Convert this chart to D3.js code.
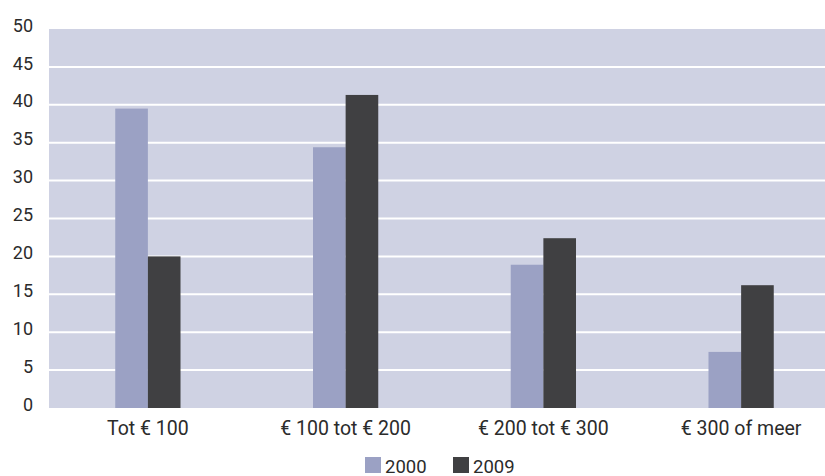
<!DOCTYPE html>
<html>
<head>
<meta charset="utf-8">
<script src="https://cdn.jsdelivr.net/npm/d3@7"></script>
<style>
  html, body { margin: 0; padding: 0; background: #fff; overflow: hidden; }
  svg { display: block; font-family: Roboto, "Liberation Sans", sans-serif; }
</style>
</head>
<body>
<script>
var categories = ["Tot € 100", "€ 100 tot € 200", "€ 200 tot € 300", "€ 300 of meer"];
var seriesNames = ["2000", "2009"];
var values2000 = [39.5, 34.4, 18.9, 7.4];
var values2009 = [20.0, 41.3, 22.4, 16.2];
var yTicks = [0, 5, 10, 15, 20, 25, 30, 35, 40, 45, 50];

var colors = { "2000": "#9ba1c4", "2009": "#404042" };

var width = 825, height = 476;
// plot runs a little past the right edge of the picture, as in the original
var plotLeft = 49, plotTop = 29, plotRight = 840, plotBottom = 408;
var innerWidth = plotRight - plotLeft;
var innerHeight = plotBottom - plotTop;

var svg = d3.select("body").append("svg")
    .attr("width", width)
    .attr("height", height);

var data = categories.map(function(c, i) {
    return { cat: c, "2000": values2000[i], "2009": values2009[i] };
});

var x0 = d3.scaleBand()
    .domain(categories)
    .range([0, innerWidth])
    .paddingInner(0.67)
    .paddingOuter(0.335);

var x1 = d3.scaleBand()
    .domain(seriesNames)
    .range([0, x0.bandwidth()]);

var y = d3.scaleLinear()
    .domain([0, 50])
    .range([innerHeight, 0]);

var g = svg.append("g")
    .attr("transform", "translate(" + plotLeft + "," + plotTop + ")");

// plot background
g.append("rect")
    .attr("width", innerWidth)
    .attr("height", innerHeight)
    .attr("fill", "#cfd2e3");

// gridlines
g.selectAll(".grid")
    .data(yTicks.filter(function(t) { return t > 0 && t < 50; }))
    .enter().append("line")
    .attr("x1", 0)
    .attr("x2", innerWidth)
    .attr("y1", function(d) { return y(d); })
    .attr("y2", function(d) { return y(d); })
    .attr("stroke", "#fff")
    .attr("stroke-width", 2);

// bars
var groups = g.selectAll(".group")
    .data(data)
    .enter().append("g")
    .attr("transform", function(d) { return "translate(" + x0(d.cat) + ",0)"; });

groups.selectAll("rect")
    .data(function(d) { return seriesNames.map(function(s) { return { key: s, value: d[s] }; }); })
    .enter().append("rect")
    .attr("x", function(d) { return x1(d.key); })
    .attr("y", function(d) { return y(d.value); })
    .attr("width", x1.bandwidth())
    .attr("height", function(d) { return innerHeight - y(d.value); })
    .attr("fill", function(d) { return colors[d.key]; });

// y axis
var yAxis = g.append("g")
    .call(d3.axisLeft(y).tickValues(yTicks).tickSize(0).tickPadding(16));
yAxis.select(".domain").remove();
yAxis.selectAll("text")
    .attr("font-family", "Roboto, sans-serif")
    .attr("font-size", 18)
    .attr("fill", "#2b2b2b")
    .attr("dy", "0.12em");

// x axis
var xAxis = g.append("g")
    .attr("transform", "translate(0," + innerHeight + ")")
    .call(d3.axisBottom(x0).tickSize(0).tickPadding(13));
xAxis.select(".domain").remove();
xAxis.selectAll("text")
    .attr("font-family", "Roboto, sans-serif")
    .attr("font-size", 19.5)
    .attr("fill", "#2b2b2b");

// legend
var legend = svg.append("g")
    .attr("transform", "translate(365,457)");

var legendItem = legend.selectAll(".item")
    .data(seriesNames)
    .enter().append("g")
    .attr("transform", function(d, i) { return "translate(" + (i * 88) + ",0)"; });

legendItem.append("rect")
    .attr("width", 16)
    .attr("height", 16)
    .attr("fill", function(d) { return colors[d]; });

legendItem.append("text")
    .attr("x", 20)
    .attr("y", 16)
    .attr("font-family", "Roboto, sans-serif")
    .attr("font-size", 18.5)
    .attr("fill", "#2b2b2b")
    .text(function(d) { return d; });
</script>
</body>
</html>
